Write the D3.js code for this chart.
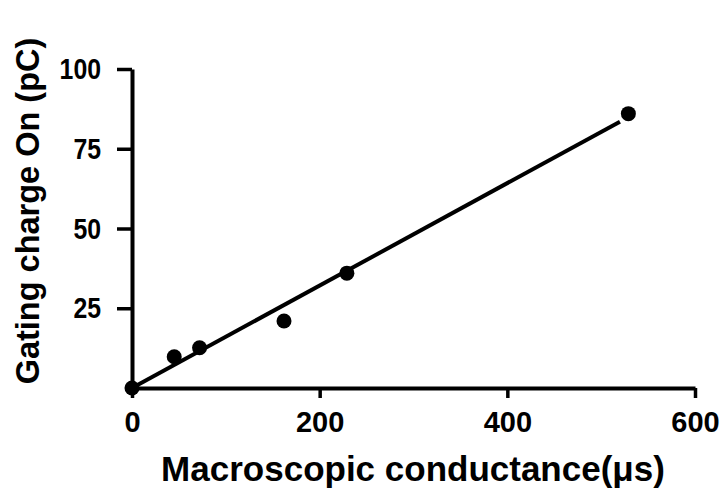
<!DOCTYPE html>
<html>
<head>
<meta charset="utf-8">
<script src="https://cdn.jsdelivr.net/npm/d3@7"></script>
<style>
  body { margin: 0; background: #fff; }
  text { font-family: "Liberation Sans", Arial, sans-serif; font-weight: bold; }
</style>
</head>
<body>
<svg></svg>
<script>
const width = 720;
const height = 491;

// measured points: conductance (µS) vs gating charge (pC)
const conductance = [0, 45, 72, 162, 229, 529];
const charge = [0, 9.8, 12.6, 21, 36, 86];
// linear fit drawn from origin
const fitX = [0, 520];
const fitY = [0, 83.5];

const xTicks = [0, 200, 400, 600];
const yTicks = [25, 50, 75, 100];
const xLabel = 'Macroscopic conductance(\u03bcs)';
const yLabel = 'Gating charge On (pC)';

const svg = d3.select('svg')
    .attr('width', width).attr('height', height);

const x = d3.scaleLinear().domain([0, 600]).range([132, 695]);
const y = d3.scaleLinear().domain([0, 100]).range([388, 69]);

// axes
const xAxis = svg.append('g')
    .attr('transform', `translate(0,${y(0)})`)
    .call(d3.axisBottom(x).tickValues(xTicks).tickSize(10).tickSizeOuter(0).tickPadding(13));
const yAxis = svg.append('g')
    .attr('transform', `translate(${x(0)},0)`)
    .call(d3.axisLeft(y).tickValues(yTicks).tickSize(15).tickSizeOuter(0).tickPadding(16));

[xAxis, yAxis].forEach(g => {
    g.select('.domain').attr('stroke', '#000').attr('stroke-width', 4);
    g.selectAll('.tick line').attr('stroke', '#000').attr('stroke-width', 3.5);
    g.selectAll('.tick text')
        .attr('fill', '#000')
        .style('font-size', '29px');
});
// y labels in the original are narrower and taller
yAxis.selectAll('.tick text')
    .style('font-size', '30px')
    .attr('textLength', d => String(d).length * 13.8)
    .attr('lengthAdjust', 'spacingAndGlyphs');

// fit line
const line = d3.line()
    .x(d => x(d[0]))
    .y(d => y(d[1]));
svg.append('path')
    .datum(fitX.map((v, i) => [v, fitY[i]]))
    .attr('d', line)
    .attr('fill', 'none')
    .attr('stroke', '#000')
    .attr('stroke-width', 4);

// dots
svg.append('g')
    .selectAll('circle')
    .data(conductance.map((v, i) => [v, charge[i]]))
    .enter().append('circle')
    .attr('cx', d => x(d[0]))
    .attr('cy', d => y(d[1]))
    .attr('r', 7.5)
    .attr('fill', '#000');

// axis titles
svg.append('text')
    .attr('x', 413)
    .attr('y', 481)
    .attr('text-anchor', 'middle')
    .style('font-size', '35px')
    .text(xLabel);

svg.append('text')
    .attr('transform', 'translate(39,211) rotate(-90)')
    .attr('text-anchor', 'middle')
    .style('font-size', '32.5px')
    .text(yLabel);
</script>
</body>
</html>
